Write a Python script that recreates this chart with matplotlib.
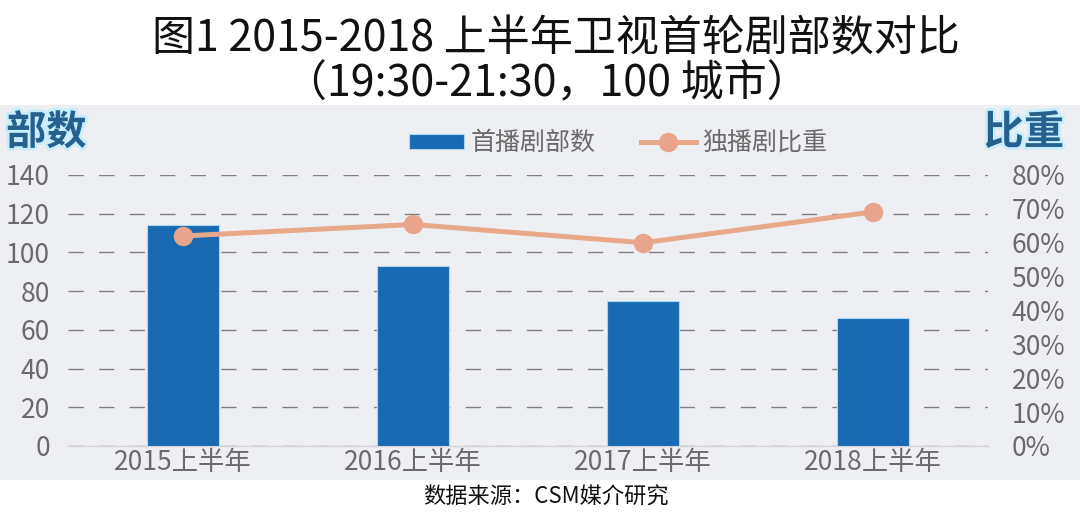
import matplotlib
matplotlib.use("Agg")
import matplotlib.pyplot as plt
import matplotlib.patheffects as pe
from matplotlib.patches import Rectangle
from matplotlib.ticker import FuncFormatter, MultipleLocator

plt.rcParams['font.family'] = ['Noto Sans CJK SC', 'DejaVu Sans']

categories = ['2015上半年', '2016上半年', '2017上半年', '2018上半年']
premiere_counts = [114, 93, 75, 66]
exclusive_share = [62.0, 65.4, 60.0, 69.1]

bar_label = '首播剧部数'
line_label = '独播剧比重'
title_line1 = '图1 2015-2018 上半年卫视首轮剧部数对比'
title_line2 = '（19:30-21:30，100 城市）'
left_axis_title = '部数'
right_axis_title = '比重'
source_text = '数据来源：CSM媒介研究'

W, H = 1080, 517
fig = plt.figure(figsize=(W / 100, H / 100), dpi=100)
fig.patch.set_facecolor('white')

# grey panel
fig.patches.append(Rectangle((0, (H - 480) / H), 1, (480 - 105) / H,
                             transform=fig.transFigure, facecolor='#eeeff3',
                             edgecolor='none', zorder=-10))

ax = fig.add_axes([68 / W, (H - 446) / H, 920 / W, 271 / H])
ax.set_facecolor('none')
x = list(range(len(categories)))
ax.bar(x, premiere_counts, width=0.31, color='#1a69b3', edgecolor='#a9d8f2',
       linewidth=0.8, zorder=3, label=bar_label)
ax.set_xlim(-0.5, len(categories) - 0.5)
ax.set_ylim(0, 140)
ax.yaxis.set_major_locator(MultipleLocator(20))
ax.set_xticks(x)
ax.set_xticklabels(categories)
ax.grid(axis='y', color='#7f7f7f', linestyle=(0, (11, 11)), linewidth=1.0, zorder=1)
ax.grid(axis='x', visible=False)
for s in ['top', 'left', 'right']:
    ax.spines[s].set_visible(False)
ax.spines['bottom'].set_color('#d4d4d8')
ax.spines['bottom'].set_linewidth(1.0)
ax.tick_params(axis='y', length=0, pad=13, labelsize=19, labelcolor='#6a6a6a')
ax.tick_params(axis='x', length=0, pad=2, labelsize=19, labelcolor='#6a6a6a')

ax2 = ax.twinx()
ax2.set_ylim(0, 80)
ax2.yaxis.set_major_locator(MultipleLocator(10))
ax2.yaxis.set_major_formatter(FuncFormatter(lambda v, p: f'{int(v)}%'))
for s in ['top', 'left', 'right', 'bottom']:
    ax2.spines[s].set_visible(False)
ax2.tick_params(axis='y', length=0, pad=17, labelsize=19, labelcolor='#6a6a6a')
ax2.plot(x, exclusive_share, color='#e8a98b', linewidth=3.6, marker='o',
         markersize=13, markerfacecolor='#e8a58b', markeredgecolor='#e8a58b',
         zorder=5, label=line_label, clip_on=False)

h1, l1 = ax.get_legend_handles_labels()
h2, l2 = ax2.get_legend_handles_labels()
leg = ax2.legend(h1 + h2, l1 + l2, loc='center', bbox_to_anchor=(0.598, 1.118),
                 ncol=2, frameon=False, fontsize=18, handlelength=2.2,
                 columnspacing=1.8, handletextpad=0.25, handleheight=0.55)
for t in leg.get_texts():
    t.set_color('#6a6a6a')

glow = [pe.withStroke(linewidth=4, foreground='#c8eefc')]
fig.text(6 / W, 1 - 133 / H, left_axis_title, fontsize=29, fontweight='bold',
         color='#25608f', ha='left', va='center', path_effects=glow)
fig.text(1064 / W, 1 - 133 / H, right_axis_title, fontsize=29, fontweight='bold',
         color='#25608f', ha='right', va='center', path_effects=glow)

fig.text(556 / W, 1 - 39 / H, title_line1, fontsize=31, color='#111111',
         ha='center', va='center')
fig.text(547 / W, 1 - 84 / H, title_line2, fontsize=31, color='#111111',
         ha='center', va='center')
fig.text(546 / W, 1 - 497 / H, source_text, fontsize=16, color='#111111',
         ha='center', va='center')

fig.savefig('out.png', dpi=100)
